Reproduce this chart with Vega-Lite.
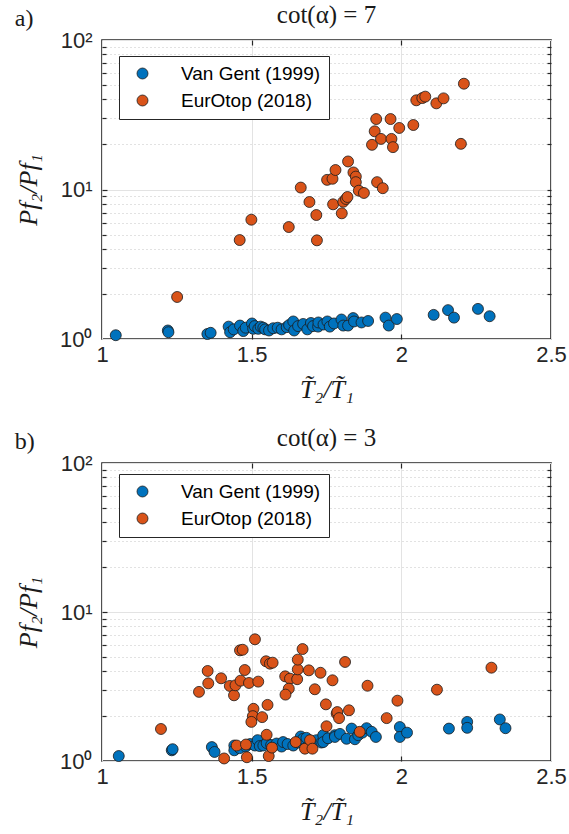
{
  "$schema": "https://vega.github.io/schema/vega-lite/v6.json",
  "padding": {"left": 14, "top": 2, "right": 0, "bottom": 0},
  "background": "white",
  "config": {
    "view": {"stroke": "#262626", "strokeWidth": 1.6},
    "font": "Liberation Sans",
    "axis": {
      "domain": false,
      "labelColor": "#262626",
      "labelFont": "Liberation Sans",
      "labelFontSize": 22,
      "titleFont": "Liberation Serif",
      "titleFontSize": 26,
      "titleFontStyle": "italic",
      "titleFontWeight": "normal",
      "titleColor": "#1a1a1a",
      "gridColor": "#e3e3e3",
      "gridWidth": 1,
      "tickColor": "#262626",
      "tickWidth": 1.2
    },
    "title": {"font": "Liberation Serif", "fontSize": 25, "fontWeight": "normal", "color": "#1a1a1a"},
    "legend": {
      "orient": "none",
      "strokeColor": "#262626",
      "fillColor": "white",
      "padding": 8,
      "symbolOffset": 6,
      "labelOffset": 29,
      "labelFont": "Liberation Sans",
      "labelFontSize": 19,
      "labelColor": "#000000",
      "rowPadding": 7,
      "symbolSize": 120,
      "symbolType": "circle",
      "symbolStrokeColor": "#1a1a1a",
      "symbolStrokeWidth": 0.8,
      "title": null
    }
  },
  "datasets": {
    "pts": [
      {"p":"a","s":"Van Gent (1999)","x":1.046,"y":1.06},
      {"p":"a","s":"Van Gent (1999)","x":1.220,"y":1.14},
      {"p":"a","s":"Van Gent (1999)","x":1.222,"y":1.11},
      {"p":"a","s":"Van Gent (1999)","x":1.352,"y":1.08},
      {"p":"a","s":"Van Gent (1999)","x":1.363,"y":1.10},
      {"p":"a","s":"Van Gent (1999)","x":1.423,"y":1.21},
      {"p":"a","s":"Van Gent (1999)","x":1.428,"y":1.11},
      {"p":"a","s":"Van Gent (1999)","x":1.440,"y":1.16},
      {"p":"a","s":"Van Gent (1999)","x":1.461,"y":1.23},
      {"p":"a","s":"Van Gent (1999)","x":1.472,"y":1.13},
      {"p":"a","s":"Van Gent (1999)","x":1.480,"y":1.19},
      {"p":"a","s":"Van Gent (1999)","x":1.501,"y":1.27},
      {"p":"a","s":"Van Gent (1999)","x":1.505,"y":1.17},
      {"p":"a","s":"Van Gent (1999)","x":1.510,"y":1.22},
      {"p":"a","s":"Van Gent (1999)","x":1.522,"y":1.17},
      {"p":"a","s":"Van Gent (1999)","x":1.530,"y":1.21},
      {"p":"a","s":"Van Gent (1999)","x":1.539,"y":1.19},
      {"p":"a","s":"Van Gent (1999)","x":1.545,"y":1.16},
      {"p":"a","s":"Van Gent (1999)","x":1.558,"y":1.14},
      {"p":"a","s":"Van Gent (1999)","x":1.572,"y":1.18},
      {"p":"a","s":"Van Gent (1999)","x":1.587,"y":1.19},
      {"p":"a","s":"Van Gent (1999)","x":1.600,"y":1.16},
      {"p":"a","s":"Van Gent (1999)","x":1.617,"y":1.20},
      {"p":"a","s":"Van Gent (1999)","x":1.625,"y":1.24},
      {"p":"a","s":"Van Gent (1999)","x":1.639,"y":1.31},
      {"p":"a","s":"Van Gent (1999)","x":1.642,"y":1.14},
      {"p":"a","s":"Van Gent (1999)","x":1.655,"y":1.22},
      {"p":"a","s":"Van Gent (1999)","x":1.672,"y":1.26},
      {"p":"a","s":"Van Gent (1999)","x":1.686,"y":1.16},
      {"p":"a","s":"Van Gent (1999)","x":1.698,"y":1.28},
      {"p":"a","s":"Van Gent (1999)","x":1.705,"y":1.22},
      {"p":"a","s":"Van Gent (1999)","x":1.722,"y":1.21},
      {"p":"a","s":"Van Gent (1999)","x":1.723,"y":1.29},
      {"p":"a","s":"Van Gent (1999)","x":1.740,"y":1.25},
      {"p":"a","s":"Van Gent (1999)","x":1.753,"y":1.31},
      {"p":"a","s":"Van Gent (1999)","x":1.761,"y":1.21},
      {"p":"a","s":"Van Gent (1999)","x":1.775,"y":1.27},
      {"p":"a","s":"Van Gent (1999)","x":1.800,"y":1.35},
      {"p":"a","s":"Van Gent (1999)","x":1.806,"y":1.23},
      {"p":"a","s":"Van Gent (1999)","x":1.822,"y":1.23},
      {"p":"a","s":"Van Gent (1999)","x":1.839,"y":1.38},
      {"p":"a","s":"Van Gent (1999)","x":1.842,"y":1.31},
      {"p":"a","s":"Van Gent (1999)","x":1.867,"y":1.29},
      {"p":"a","s":"Van Gent (1999)","x":1.889,"y":1.32},
      {"p":"a","s":"Van Gent (1999)","x":1.947,"y":1.39},
      {"p":"a","s":"Van Gent (1999)","x":1.958,"y":1.23},
      {"p":"a","s":"Van Gent (1999)","x":1.985,"y":1.36},
      {"p":"a","s":"Van Gent (1999)","x":2.108,"y":1.45},
      {"p":"a","s":"Van Gent (1999)","x":2.156,"y":1.56},
      {"p":"a","s":"Van Gent (1999)","x":2.176,"y":1.39},
      {"p":"a","s":"Van Gent (1999)","x":2.256,"y":1.59},
      {"p":"a","s":"Van Gent (1999)","x":2.295,"y":1.42},
      {"p":"a","s":"EurOtop (2018)","x":1.251,"y":1.91},
      {"p":"a","s":"EurOtop (2018)","x":1.460,"y":4.59},
      {"p":"a","s":"EurOtop (2018)","x":1.499,"y":6.28},
      {"p":"a","s":"EurOtop (2018)","x":1.624,"y":5.61},
      {"p":"a","s":"EurOtop (2018)","x":1.664,"y":10.3},
      {"p":"a","s":"EurOtop (2018)","x":1.693,"y":8.25},
      {"p":"a","s":"EurOtop (2018)","x":1.716,"y":6.75},
      {"p":"a","s":"EurOtop (2018)","x":1.718,"y":4.57},
      {"p":"a","s":"EurOtop (2018)","x":1.752,"y":11.6},
      {"p":"a","s":"EurOtop (2018)","x":1.770,"y":11.8},
      {"p":"a","s":"EurOtop (2018)","x":1.780,"y":13.5},
      {"p":"a","s":"EurOtop (2018)","x":1.772,"y":7.96},
      {"p":"a","s":"EurOtop (2018)","x":1.801,"y":6.93},
      {"p":"a","s":"EurOtop (2018)","x":1.806,"y":8.28},
      {"p":"a","s":"EurOtop (2018)","x":1.815,"y":8.64},
      {"p":"a","s":"EurOtop (2018)","x":1.820,"y":8.91},
      {"p":"a","s":"EurOtop (2018)","x":1.822,"y":15.4},
      {"p":"a","s":"EurOtop (2018)","x":1.840,"y":13.0},
      {"p":"a","s":"EurOtop (2018)","x":1.848,"y":12.2},
      {"p":"a","s":"EurOtop (2018)","x":1.848,"y":11.2},
      {"p":"a","s":"EurOtop (2018)","x":1.858,"y":9.82},
      {"p":"a","s":"EurOtop (2018)","x":1.875,"y":9.48},
      {"p":"a","s":"EurOtop (2018)","x":1.919,"y":11.2},
      {"p":"a","s":"EurOtop (2018)","x":1.938,"y":10.2},
      {"p":"a","s":"EurOtop (2018)","x":1.902,"y":19.9},
      {"p":"a","s":"EurOtop (2018)","x":1.916,"y":29.6},
      {"p":"a","s":"EurOtop (2018)","x":1.911,"y":24.5},
      {"p":"a","s":"EurOtop (2018)","x":1.932,"y":21.8},
      {"p":"a","s":"EurOtop (2018)","x":1.964,"y":29.6},
      {"p":"a","s":"EurOtop (2018)","x":1.967,"y":21.8},
      {"p":"a","s":"EurOtop (2018)","x":1.972,"y":19.2},
      {"p":"a","s":"EurOtop (2018)","x":1.993,"y":25.8},
      {"p":"a","s":"EurOtop (2018)","x":2.040,"y":27.0},
      {"p":"a","s":"EurOtop (2018)","x":2.050,"y":39.5},
      {"p":"a","s":"EurOtop (2018)","x":2.070,"y":40.9},
      {"p":"a","s":"EurOtop (2018)","x":2.080,"y":41.8},
      {"p":"a","s":"EurOtop (2018)","x":2.117,"y":37.7},
      {"p":"a","s":"EurOtop (2018)","x":2.141,"y":40.7},
      {"p":"a","s":"EurOtop (2018)","x":2.209,"y":51.0},
      {"p":"a","s":"EurOtop (2018)","x":2.199,"y":20.2},
      {"p":"b","s":"Van Gent (1999)","x":1.056,"y":1.08},
      {"p":"b","s":"Van Gent (1999)","x":1.233,"y":1.18},
      {"p":"b","s":"Van Gent (1999)","x":1.236,"y":1.20},
      {"p":"b","s":"Van Gent (1999)","x":1.367,"y":1.24},
      {"p":"b","s":"Van Gent (1999)","x":1.376,"y":1.15},
      {"p":"b","s":"Van Gent (1999)","x":1.442,"y":1.27},
      {"p":"b","s":"Van Gent (1999)","x":1.442,"y":1.18},
      {"p":"b","s":"Van Gent (1999)","x":1.460,"y":1.22},
      {"p":"b","s":"Van Gent (1999)","x":1.480,"y":1.25},
      {"p":"b","s":"Van Gent (1999)","x":1.495,"y":1.30},
      {"p":"b","s":"Van Gent (1999)","x":1.511,"y":1.27},
      {"p":"b","s":"Van Gent (1999)","x":1.520,"y":1.38},
      {"p":"b","s":"Van Gent (1999)","x":1.527,"y":1.26},
      {"p":"b","s":"Van Gent (1999)","x":1.539,"y":1.27},
      {"p":"b","s":"Van Gent (1999)","x":1.550,"y":1.32},
      {"p":"b","s":"Van Gent (1999)","x":1.565,"y":1.28},
      {"p":"b","s":"Van Gent (1999)","x":1.583,"y":1.31},
      {"p":"b","s":"Van Gent (1999)","x":1.600,"y":1.25},
      {"p":"b","s":"Van Gent (1999)","x":1.605,"y":1.34},
      {"p":"b","s":"Van Gent (1999)","x":1.620,"y":1.30},
      {"p":"b","s":"Van Gent (1999)","x":1.639,"y":1.27},
      {"p":"b","s":"Van Gent (1999)","x":1.655,"y":1.33},
      {"p":"b","s":"Van Gent (1999)","x":1.664,"y":1.46},
      {"p":"b","s":"Van Gent (1999)","x":1.672,"y":1.41},
      {"p":"b","s":"Van Gent (1999)","x":1.683,"y":1.43},
      {"p":"b","s":"Van Gent (1999)","x":1.700,"y":1.36},
      {"p":"b","s":"Van Gent (1999)","x":1.717,"y":1.38},
      {"p":"b","s":"Van Gent (1999)","x":1.733,"y":1.33},
      {"p":"b","s":"Van Gent (1999)","x":1.739,"y":1.49},
      {"p":"b","s":"Van Gent (1999)","x":1.739,"y":1.34},
      {"p":"b","s":"Van Gent (1999)","x":1.755,"y":1.42},
      {"p":"b","s":"Van Gent (1999)","x":1.778,"y":1.49},
      {"p":"b","s":"Van Gent (1999)","x":1.778,"y":1.45},
      {"p":"b","s":"Van Gent (1999)","x":1.795,"y":1.52},
      {"p":"b","s":"Van Gent (1999)","x":1.817,"y":1.41},
      {"p":"b","s":"Van Gent (1999)","x":1.834,"y":1.65},
      {"p":"b","s":"Van Gent (1999)","x":1.845,"y":1.40},
      {"p":"b","s":"Van Gent (1999)","x":1.856,"y":1.49},
      {"p":"b","s":"Van Gent (1999)","x":1.870,"y":1.55},
      {"p":"b","s":"Van Gent (1999)","x":1.884,"y":1.66},
      {"p":"b","s":"Van Gent (1999)","x":1.901,"y":1.57},
      {"p":"b","s":"Van Gent (1999)","x":1.915,"y":1.45},
      {"p":"b","s":"Van Gent (1999)","x":1.995,"y":1.69},
      {"p":"b","s":"Van Gent (1999)","x":1.995,"y":1.45},
      {"p":"b","s":"Van Gent (1999)","x":2.019,"y":1.55},
      {"p":"b","s":"Van Gent (1999)","x":2.159,"y":1.65},
      {"p":"b","s":"Van Gent (1999)","x":2.220,"y":1.83},
      {"p":"b","s":"Van Gent (1999)","x":2.220,"y":1.67},
      {"p":"b","s":"Van Gent (1999)","x":2.329,"y":1.90},
      {"p":"b","s":"Van Gent (1999)","x":2.348,"y":1.66},
      {"p":"b","s":"EurOtop (2018)","x":1.197,"y":1.64},
      {"p":"b","s":"EurOtop (2018)","x":1.324,"y":2.91},
      {"p":"b","s":"EurOtop (2018)","x":1.355,"y":3.32},
      {"p":"b","s":"EurOtop (2018)","x":1.353,"y":4.02},
      {"p":"b","s":"EurOtop (2018)","x":1.398,"y":3.59},
      {"p":"b","s":"EurOtop (2018)","x":1.427,"y":3.19},
      {"p":"b","s":"EurOtop (2018)","x":1.441,"y":2.76},
      {"p":"b","s":"EurOtop (2018)","x":1.446,"y":3.22},
      {"p":"b","s":"EurOtop (2018)","x":1.463,"y":3.46},
      {"p":"b","s":"EurOtop (2018)","x":1.461,"y":5.53},
      {"p":"b","s":"EurOtop (2018)","x":1.470,"y":5.58},
      {"p":"b","s":"EurOtop (2018)","x":1.477,"y":4.08},
      {"p":"b","s":"EurOtop (2018)","x":1.491,"y":3.34},
      {"p":"b","s":"EurOtop (2018)","x":1.511,"y":6.56},
      {"p":"b","s":"EurOtop (2018)","x":1.522,"y":3.41},
      {"p":"b","s":"EurOtop (2018)","x":1.548,"y":4.67},
      {"p":"b","s":"EurOtop (2018)","x":1.561,"y":4.50},
      {"p":"b","s":"EurOtop (2018)","x":1.570,"y":4.57},
      {"p":"b","s":"EurOtop (2018)","x":1.506,"y":2.24},
      {"p":"b","s":"EurOtop (2018)","x":1.504,"y":2.00},
      {"p":"b","s":"EurOtop (2018)","x":1.499,"y":1.83},
      {"p":"b","s":"EurOtop (2018)","x":1.535,"y":1.97},
      {"p":"b","s":"EurOtop (2018)","x":1.553,"y":2.38},
      {"p":"b","s":"EurOtop (2018)","x":1.550,"y":1.50},
      {"p":"b","s":"EurOtop (2018)","x":1.450,"y":1.27},
      {"p":"b","s":"EurOtop (2018)","x":1.481,"y":1.29},
      {"p":"b","s":"EurOtop (2018)","x":1.408,"y":1.04},
      {"p":"b","s":"EurOtop (2018)","x":1.484,"y":1.06},
      {"p":"b","s":"EurOtop (2018)","x":1.557,"y":1.08},
      {"p":"b","s":"EurOtop (2018)","x":1.568,"y":1.23},
      {"p":"b","s":"EurOtop (2018)","x":1.612,"y":3.70},
      {"p":"b","s":"EurOtop (2018)","x":1.628,"y":3.57},
      {"p":"b","s":"EurOtop (2018)","x":1.652,"y":3.54},
      {"p":"b","s":"EurOtop (2018)","x":1.624,"y":3.06},
      {"p":"b","s":"EurOtop (2018)","x":1.613,"y":2.79},
      {"p":"b","s":"EurOtop (2018)","x":1.654,"y":4.12},
      {"p":"b","s":"EurOtop (2018)","x":1.654,"y":4.79},
      {"p":"b","s":"EurOtop (2018)","x":1.670,"y":5.64},
      {"p":"b","s":"EurOtop (2018)","x":1.691,"y":4.06},
      {"p":"b","s":"EurOtop (2018)","x":1.730,"y":3.91},
      {"p":"b","s":"EurOtop (2018)","x":1.711,"y":3.03},
      {"p":"b","s":"EurOtop (2018)","x":1.770,"y":3.48},
      {"p":"b","s":"EurOtop (2018)","x":1.748,"y":2.40},
      {"p":"b","s":"EurOtop (2018)","x":1.750,"y":1.71},
      {"p":"b","s":"EurOtop (2018)","x":1.647,"y":1.34},
      {"p":"b","s":"EurOtop (2018)","x":1.678,"y":1.21},
      {"p":"b","s":"EurOtop (2018)","x":1.695,"y":1.38},
      {"p":"b","s":"EurOtop (2018)","x":1.703,"y":1.21},
      {"p":"b","s":"EurOtop (2018)","x":1.784,"y":2.08},
      {"p":"b","s":"EurOtop (2018)","x":1.812,"y":4.62},
      {"p":"b","s":"EurOtop (2018)","x":1.887,"y":3.20},
      {"p":"b","s":"EurOtop (2018)","x":1.786,"y":2.13},
      {"p":"b","s":"EurOtop (2018)","x":1.792,"y":1.94},
      {"p":"b","s":"EurOtop (2018)","x":1.825,"y":2.19},
      {"p":"b","s":"EurOtop (2018)","x":1.861,"y":1.57},
      {"p":"b","s":"EurOtop (2018)","x":1.987,"y":2.54},
      {"p":"b","s":"EurOtop (2018)","x":1.951,"y":1.94},
      {"p":"b","s":"EurOtop (2018)","x":2.119,"y":3.01},
      {"p":"b","s":"EurOtop (2018)","x":2.301,"y":4.23}
    ]
  },
  "spacing": 22,
  "resolve": {"legend": {"color": "independent"}},
  "vconcat": [
    {
      "title": {"text": "a)", "anchor": "start", "frame": "bounds", "dy": 33, "dx": 0, "fontSize": 24},
      "resolve": {"legend": {"color": "independent"}},
      "vconcat": [
        {
          "title": {"text": "cot(α) = 7", "anchor": "middle", "offset": 1},
          "width": 449,
          "height": 299,
          "data": {"name": "pts"},
          "transform": [{"filter": "datum.p == 'a'"}],
          "resolve": {"axis": {"x": "independent", "y": "independent"}},
          "layer": [
            {
              "mark": {"type": "circle", "size": 120, "opacity": 1, "stroke": "#1a1a1a", "strokeWidth": 0.8},
              "encoding": {
                "x": {"field": "x", "type": "quantitative", "scale": {"domain": [1, 2.5], "nice": false, "zero": false},
                  "axis": {"orient": "bottom", "values": [1, 1.5, 2, 2.5], "format": "~g", "title": "T̃₂/T̃₁", "grid": true, "ticks": false, "labelPadding": 5, "titlePadding": 11, "labelFlush": false}},
                "y": {"field": "y", "type": "quantitative", "scale": {"type": "log", "domain": [1, 100], "nice": false},
                  "axis": {"orient": "left", "values": [1, 10, 100], "labelExpr": "datum.value == 1 ? '10⁰' : datum.value == 10 ? '10¹' : '10²'", "title": "Pf₂/Pf₁", "grid": true, "ticks": false, "labelPadding": 10, "titlePadding": 18, "labelFlush": false}},
                "color": {"field": "s", "type": "nominal", "sort": ["Van Gent (1999)", "EurOtop (2018)"],
                  "scale": {"domain": ["Van Gent (1999)", "EurOtop (2018)"], "range": ["#0072BD", "#D95319"]},
                  "legend": {"orient": "none", "legendX": 17, "legendY": 16}}
              }
            },
            {
              "mark": {"type": "point", "opacity": 0},
              "encoding": {
                "x": {"field": "x", "type": "quantitative", "scale": {"domain": [1, 2.5], "nice": false, "zero": false},
                  "axis": {"orient": "top", "values": [1.5, 2], "labels": false, "grid": false, "title": null, "tickSize": -5}},
                "y": {"field": "y", "type": "quantitative", "scale": {"type": "log", "domain": [1, 100], "nice": false},
                  "axis": {"orient": "left", "values": [2, 3, 4, 5, 6, 7, 8, 9, 20, 30, 40, 50, 60, 70, 80, 90], "labels": false, "title": null, "grid": true, "gridDash": [1, 3], "gridColor": "#c4c4c4", "tickSize": -4}}
              }
            },
            {
              "mark": {"type": "point", "opacity": 0},
              "encoding": {
                "x": {"field": "x", "type": "quantitative", "scale": {"domain": [1, 2.5], "nice": false, "zero": false},
                  "axis": {"orient": "bottom", "values": [1.5, 2], "labels": false, "grid": false, "title": null, "tickSize": -5}},
                "y": {"field": "y", "type": "quantitative", "scale": {"type": "log", "domain": [1, 100], "nice": false},
                  "axis": {"orient": "right", "values": [2, 3, 4, 5, 6, 7, 8, 9, 10, 20, 30, 40, 50, 60, 70, 80, 90], "labels": false, "title": null, "grid": false, "tickSize": -4}}
              }
            },
            {
              "mark": {"type": "point", "opacity": 0},
              "encoding": {
                "x": {"field": "x", "type": "quantitative", "scale": {"domain": [1, 2.5], "nice": false, "zero": false}, "axis": null},
                "y": {"field": "y", "type": "quantitative", "scale": {"type": "log", "domain": [1, 100], "nice": false},
                  "axis": {"orient": "left", "values": [10], "labels": false, "title": null, "grid": false, "tickSize": -5}}
              }
            }
          ]
        }
      ]
    },
    {
      "title": {"text": "b)", "anchor": "start", "frame": "bounds", "dy": 33, "dx": 0, "fontSize": 24},
      "resolve": {"legend": {"color": "independent"}},
      "vconcat": [
        {
          "title": {"text": "cot(α) = 3", "anchor": "middle", "offset": 1},
          "width": 449,
          "height": 298,
          "data": {"name": "pts"},
          "transform": [{"filter": "datum.p == 'b'"}],
          "resolve": {"axis": {"x": "independent", "y": "independent"}},
          "layer": [
            {
              "mark": {"type": "circle", "size": 120, "opacity": 1, "stroke": "#1a1a1a", "strokeWidth": 0.8},
              "encoding": {
                "x": {"field": "x", "type": "quantitative", "scale": {"domain": [1, 2.5], "nice": false, "zero": false},
                  "axis": {"orient": "bottom", "values": [1, 1.5, 2, 2.5], "format": "~g", "title": "T̃₂/T̃₁", "grid": true, "ticks": false, "labelPadding": 5, "titlePadding": 11, "labelFlush": false}},
                "y": {"field": "y", "type": "quantitative", "scale": {"type": "log", "domain": [1, 100], "nice": false},
                  "axis": {"orient": "left", "values": [1, 10, 100], "labelExpr": "datum.value == 1 ? '10⁰' : datum.value == 10 ? '10¹' : '10²'", "title": "Pf₂/Pf₁", "grid": true, "ticks": false, "labelPadding": 10, "titlePadding": 18, "labelFlush": false}},
                "color": {"field": "s", "type": "nominal", "sort": ["Van Gent (1999)", "EurOtop (2018)"],
                  "scale": {"domain": ["Van Gent (1999)", "EurOtop (2018)"], "range": ["#0072BD", "#D95319"]},
                  "legend": {"orient": "none", "legendX": 17, "legendY": 11}}
              }
            },
            {
              "mark": {"type": "point", "opacity": 0},
              "encoding": {
                "x": {"field": "x", "type": "quantitative", "scale": {"domain": [1, 2.5], "nice": false, "zero": false},
                  "axis": {"orient": "top", "values": [1.5, 2], "labels": false, "grid": false, "title": null, "tickSize": -5}},
                "y": {"field": "y", "type": "quantitative", "scale": {"type": "log", "domain": [1, 100], "nice": false},
                  "axis": {"orient": "left", "values": [2, 3, 4, 5, 6, 7, 8, 9, 20, 30, 40, 50, 60, 70, 80, 90], "labels": false, "title": null, "grid": true, "gridDash": [1, 3], "gridColor": "#c4c4c4", "tickSize": -4}}
              }
            },
            {
              "mark": {"type": "point", "opacity": 0},
              "encoding": {
                "x": {"field": "x", "type": "quantitative", "scale": {"domain": [1, 2.5], "nice": false, "zero": false},
                  "axis": {"orient": "bottom", "values": [1.5, 2], "labels": false, "grid": false, "title": null, "tickSize": -5}},
                "y": {"field": "y", "type": "quantitative", "scale": {"type": "log", "domain": [1, 100], "nice": false},
                  "axis": {"orient": "right", "values": [2, 3, 4, 5, 6, 7, 8, 9, 10, 20, 30, 40, 50, 60, 70, 80, 90], "labels": false, "title": null, "grid": false, "tickSize": -4}}
              }
            },
            {
              "mark": {"type": "point", "opacity": 0},
              "encoding": {
                "x": {"field": "x", "type": "quantitative", "scale": {"domain": [1, 2.5], "nice": false, "zero": false}, "axis": null},
                "y": {"field": "y", "type": "quantitative", "scale": {"type": "log", "domain": [1, 100], "nice": false},
                  "axis": {"orient": "left", "values": [10], "labels": false, "title": null, "grid": false, "tickSize": -5}}
              }
            }
          ]
        }
      ]
    }
  ]
}
